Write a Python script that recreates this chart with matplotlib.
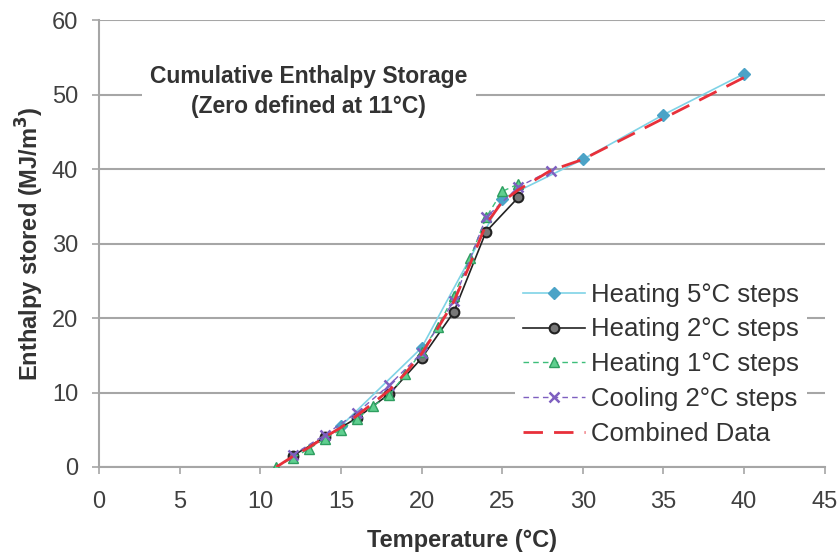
import matplotlib.pyplot as plt

plt.rcParams['font.family'] = ['Liberation Sans', 'DejaVu Sans']

# 데이터
t_5c = [15, 20, 25, 30, 35, 40]
h_5c = [5.5, 16.0, 36.0, 41.3, 47.3, 52.8]

t_2c = [12, 14, 16, 18, 20, 22, 24, 26]
h_2c = [1.5, 4.0, 6.6, 9.8, 14.6, 20.8, 31.6, 36.2]

t_1c = [11, 12, 13, 14, 15, 16, 17, 18, 19, 20, 21, 22, 23, 24, 25, 26]
h_1c = [0.0, 1.2, 2.4, 3.8, 5.0, 6.5, 8.2, 9.6, 12.5, 15.5, 18.8, 23.0, 28.0, 33.5, 37.0, 38.0]

t_cool = [12, 14, 16, 18, 20, 22, 24, 26, 28]
h_cool = [1.6, 4.3, 7.3, 11.0, 15.3, 22.3, 33.5, 37.6, 39.8]

t_comb = [11, 12, 13, 14, 15, 16, 17, 18, 19, 20, 21, 22, 23, 24, 25, 26, 28, 30, 35, 40]
h_comb = [0.0, 1.4, 2.6, 4.0, 5.3, 6.9, 8.6, 10.3, 12.6, 15.2, 18.6, 22.2, 27.2, 32.6, 35.6, 37.2, 39.8, 41.3, 46.8, 52.3]

xticks = list(range(0, 46, 5))
yticks = list(range(0, 61, 10))

fig = plt.figure(figsize=(8.39, 5.59), dpi=100)
ax = fig.add_axes([0.118, 0.1646, 0.865, 0.7994])

ax.plot(t_5c, h_5c, color='#7FD3E6', lw=1.2, marker='D', ms=6,
        mfc='#4BA3C7', mec='#4BA3C7', label='Heating 5°C steps', zorder=3)
ax.plot(t_2c, h_2c, color='#222222', lw=1.2, marker='o', ms=7,
        mfc='#777777', mec='#222222', mew=1.5, label='Heating 2°C steps', zorder=3)
ax.plot(t_1c, h_1c, color='#3DBE7A', lw=1.0, ls=(0, (4, 3)), marker='^', ms=7,
        mfc='#5FCF8F', mec='#2E9E60', label='Heating 1°C steps', zorder=3)
ax.plot(t_cool, h_cool, color='#7E5FC0', lw=1.0, ls=(0, (4, 3)), marker='x', ms=7,
        mew=1.8, mec='#7E5FC0', label='Cooling 2°C steps', zorder=3)
ax.plot(t_comb, h_comb, color='#E8303A', lw=2.0, ls=(0, (7, 4)),
        label='Combined Data', zorder=4)

ax.set_xlim(0, 45)
ax.set_ylim(0, 60)
ax.set_xticks(xticks)
ax.set_yticks(yticks)
ax.grid(axis='y', color='#A6A6A6', lw=1.5, zorder=0)
ax.set_axisbelow(True)

for s in ['top', 'right']:
    ax.spines[s].set_visible(False)
for s in ['left', 'bottom']:
    ax.spines[s].set_color('#A6A6A6')
    ax.spines[s].set_linewidth(1.5)
ax.tick_params(axis='both', colors='#A6A6A6', labelcolor='#404040',
               labelsize=17, length=5, width=1.2, direction='out')
ax.tick_params(axis='x', pad=12)
ax.tick_params(axis='y', pad=10)

ax.set_xlabel('Temperature (°C)', fontsize=17, fontweight='bold', color='#333333', labelpad=12)
ax.set_ylabel('Enthalpy stored (MJ/m$^\\mathbf{3}$)', fontsize=17, fontweight='bold',
              color='#333333', labelpad=4)

ax.text(13.0, 50.4, 'Cumulative Enthalpy Storage\n(Zero defined at 11°C)',
        ha='center', va='center', fontsize=16.5, fontweight='bold', color='#333333',
        linespacing=1.35,
        bbox=dict(facecolor='white', edgecolor='none', pad=6), zorder=5)

leg = ax.legend(loc='lower right', bbox_to_anchor=(0.975, 0.03), fontsize=18.5,
                frameon=True, facecolor='white', edgecolor='none', framealpha=1,
                handlelength=2.4, handletextpad=0.25, labelspacing=0.42,
                borderpad=0.3, borderaxespad=0.0)
for txt in leg.get_texts():
    txt.set_color('#333333')

fig.savefig('out.png', dpi=100)
